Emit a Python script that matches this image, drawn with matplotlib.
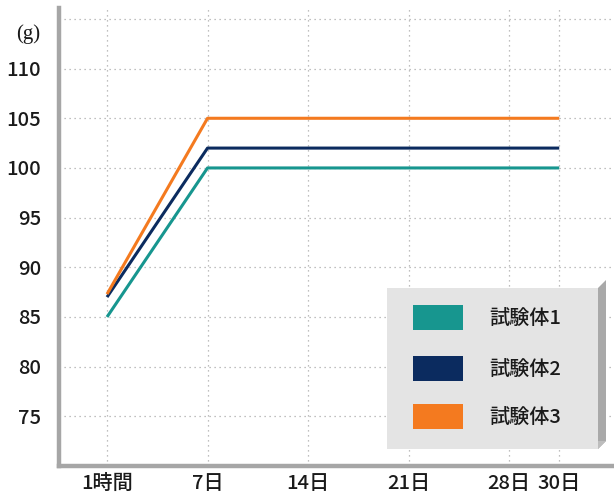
import matplotlib

matplotlib.use("Agg")

import matplotlib.pyplot as plt
from matplotlib.patches import Polygon, Rectangle

# Data
X_LABELS = ["1時間", "7日", "14日", "21日", "28日", "30日"]
X_POS = [0, 1, 2, 3, 4, 4.5]
LINE_X = [0, 1, 4.5]
SERIES_NAMES = ["試験体1", "試験体2", "試験体3"]
SERIES_1 = [85, 100, 100]
SERIES_2 = [87, 102, 102]
SERIES_3 = [87.3, 105, 105]
Y_TICKS = [75, 80, 85, 90, 95, 100, 105, 110]
Y_GRID = [75, 80, 85, 90, 95, 100, 105, 110, 115]

COLORS = ["#17968f", "#0b2b5f", "#f47a1f"]
FONT = ["Noto Sans CJK JP", "DejaVu Sans"]

matplotlib.rcParams["hatch.color"] = "#c4c4c4"
matplotlib.rcParams["hatch.linewidth"] = 0.4

W, H = 614, 499
fig = plt.figure(figsize=(W / 100, H / 100), dpi=100)
ax = fig.add_axes([59 / W, 1 - 466 / H, 1 - 59 / W, 458 / H])

for xv in X_POS:
    ax.axvline(xv, color="#aaaaaa", lw=0.9, ls=(0, (1, 3)), zorder=0)
for yv in Y_GRID:
    ax.axhline(yv, color="#aaaaaa", lw=0.9, ls=(0, (1, 3)), zorder=0)

for vals, c in zip([SERIES_1, SERIES_2, SERIES_3], COLORS):
    ax.plot(LINE_X, vals, color=c, lw=2.2, solid_capstyle="butt", zorder=3)

ax.set_xlim(-0.478, 5.045)
ax.set_ylim(70.0, 116.1)
ax.set_xticks(X_POS)
ax.set_xticklabels(X_LABELS)
ax.set_yticks(Y_TICKS)
ax.tick_params(length=0, labelsize=14.5, colors="#1a1a1a")
ax.tick_params(axis="y", pad=13)
ax.tick_params(axis="x", pad=6)
for lab in ax.get_xticklabels() + ax.get_yticklabels():
    lab.set_family(FONT)
    lab.set_weight("medium")
for side in ["top", "right"]:
    ax.spines[side].set_visible(False)
for side in ["left", "bottom"]:
    ax.spines[side].set_color("#a6a6a6")
    ax.spines[side].set_linewidth(3.2)

fig.text(28 / W, 1 - 34 / H, "(g)", ha="center", va="center", fontsize=15,
         family=["Liberation Serif", "DejaVu Serif"], color="#1a1a1a")


# Bevelled legend box, drawn in figure pixels
def px(x, y):
    return (x / W, 1 - y / H)


box_l, box_t, box_r, box_b, bev = 387, 288, 598, 449, 8
fig.patches.append(Polygon([px(box_r, box_t), px(box_r + bev, box_t - bev), px(box_r + bev, box_b - bev),
                            px(box_r, box_b)], closed=True, transform=fig.transFigure,
                           facecolor="#a9a9a9", edgecolor="none", zorder=5))
fig.patches.append(Polygon([px(box_l, box_b), px(box_r, box_b), px(box_r + bev, box_b - bev),
                            px(box_l + bev, box_b - bev)], closed=True, transform=fig.transFigure,
                           facecolor="#bdbdbd", edgecolor="none", zorder=5))
fig.patches.append(Rectangle(px(box_l, box_b), (box_r - box_l) / W, (box_b - box_t) / H,
                             transform=fig.transFigure, facecolor="#e4e4e4", edgecolor="none",
                             hatch="..", zorder=6))

row_y = [318, 369, 417]
for name, c, ry in zip(SERIES_NAMES, COLORS, row_y):
    fig.patches.append(Rectangle(px(413, ry + 12), 50 / W, 25 / H, transform=fig.transFigure,
                                 facecolor=c, edgecolor="none", zorder=7))
    fig.text(489 / W, 1 - ry / H, name, ha="left", va="center", fontsize=14.5,
             family=FONT, weight="medium", color="#1a1a1a", zorder=8)

fig.savefig("out.png", dpi=100, facecolor="white")
